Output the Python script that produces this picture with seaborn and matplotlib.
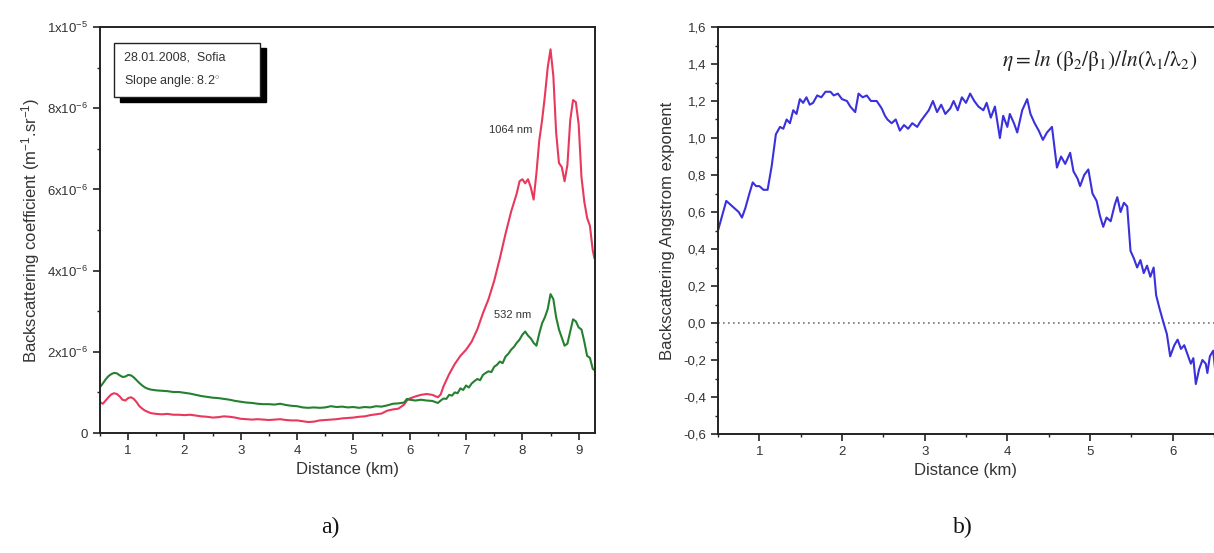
import numpy as np
import pandas as pd
import matplotlib
matplotlib.use("Agg")
import matplotlib.pyplot as plt
import matplotlib.ticker as mticker
from matplotlib.patches import Rectangle
import seaborn as sns

# ---------------- data ----------------
red_x = [0.50,0.55,0.60,0.65,0.70,0.75,0.80,0.85,0.90,0.95,1.00,1.05,1.10,1.15,1.20,1.25,1.30,1.35,1.40,1.45,
         1.5,1.6,1.7,1.8,1.9,2.0,2.1,2.2,2.3,2.4,2.5,2.6,2.7,2.8,2.9,3.0,3.1,3.2,3.3,3.4,3.5,3.6,3.7,3.8,3.9,
         4.0,4.1,4.2,4.3,4.4,4.5,4.6,4.7,4.8,4.9,5.0,5.1,5.2,5.3,5.4,5.5,5.6,5.7,5.8,5.9,5.95,6.0,6.1,6.2,6.3,
         6.4,6.5,6.55,6.6,6.7,6.8,6.9,7.0,7.1,7.2,7.3,7.4,7.5,7.6,7.7,7.8,7.9,7.95,8.0,8.05,8.1,8.15,8.2,8.25,
         8.3,8.35,8.4,8.45,8.5,8.55,8.6,8.65,8.7,8.75,8.8,8.85,8.9,8.95,9.0,9.05,9.1,9.15,9.2,9.25,9.28]
red_y = [0.76,0.72,0.80,0.88,0.95,0.98,0.96,0.90,0.82,0.80,0.86,0.88,0.84,0.76,0.66,0.60,0.55,0.52,0.49,0.48,
         0.47,0.46,0.47,0.45,0.45,0.44,0.45,0.43,0.41,0.40,0.38,0.39,0.41,0.40,0.38,0.35,0.34,0.33,0.34,0.33,
         0.32,0.33,0.34,0.32,0.31,0.31,0.29,0.27,0.28,0.31,0.32,0.33,0.34,0.36,0.37,0.38,0.40,0.41,0.44,0.46,
         0.48,0.55,0.58,0.60,0.70,0.80,0.85,0.90,0.94,0.96,0.94,0.88,0.95,1.15,1.45,1.70,1.90,2.05,2.25,2.55,
         2.95,3.30,3.75,4.30,4.90,5.45,5.90,6.20,6.25,6.15,6.25,6.05,5.75,6.40,7.20,7.70,8.30,9.00,9.45,8.80,
         7.40,6.65,6.55,6.20,6.60,7.70,8.20,8.15,7.60,6.30,5.70,5.30,5.10,4.50,4.30]

green_x = [0.50,0.55,0.60,0.65,0.70,0.75,0.80,0.85,0.90,0.95,1.00,1.05,1.10,1.15,1.20,1.25,1.30,1.35,1.40,1.45,
           1.5,1.6,1.7,1.8,1.9,2.0,2.1,2.2,2.3,2.4,2.5,2.6,2.7,2.8,2.9,3.0,3.1,3.2,3.3,3.4,3.5,3.6,3.7,3.8,3.9,
           4.0,4.1,4.2,4.3,4.4,4.5,4.6,4.7,4.8,4.9,5.0,5.1,5.2,5.3,5.4,5.5,5.6,5.7,5.8,5.9,5.95,6.0,6.1,6.2,6.3,
           6.4,6.5,6.55,6.6,6.65,6.7,6.75,6.8,6.85,6.9,6.95,7.0,7.05,7.1,7.15,7.2,7.25,7.3,7.35,7.4,7.45,7.5,
           7.55,7.6,7.65,7.7,7.75,7.8,7.85,7.9,7.95,8.0,8.05,8.1,8.15,8.2,8.25,8.3,8.35,8.4,8.45,8.5,8.55,8.6,
           8.65,8.7,8.75,8.8,8.85,8.9,8.95,9.0,9.05,9.1,9.15,9.2,9.25,9.28]
green_y = [1.13,1.22,1.32,1.40,1.45,1.48,1.47,1.42,1.38,1.39,1.43,1.42,1.37,1.30,1.23,1.17,1.12,1.09,1.07,1.06,
           1.05,1.04,1.03,1.01,1.01,0.99,0.97,0.94,0.91,0.89,0.87,0.86,0.84,0.82,0.79,0.77,0.75,0.74,0.72,0.71,
           0.71,0.70,0.72,0.69,0.67,0.66,0.63,0.62,0.63,0.62,0.63,0.66,0.64,0.65,0.63,0.64,0.62,0.64,0.63,0.66,
           0.65,0.68,0.72,0.73,0.75,0.84,0.82,0.80,0.82,0.80,0.79,0.74,0.80,0.85,0.84,0.94,0.92,1.00,0.98,1.10,
           1.06,1.17,1.12,1.22,1.28,1.33,1.30,1.43,1.48,1.52,1.50,1.63,1.68,1.76,1.72,1.88,1.95,2.05,2.12,2.22,
           2.30,2.42,2.50,2.40,2.33,2.22,2.15,2.45,2.70,2.85,3.05,3.42,3.30,2.85,2.55,2.35,2.15,2.20,2.50,2.80,
           2.75,2.60,2.55,2.25,1.90,1.85,1.58,1.55]

blue_x = [0.50,0.55,0.60,0.65,0.70,0.75,0.79,0.83,0.88,0.92,0.96,1.00,1.05,1.10,1.15,1.20,1.25,1.29,1.33,1.37,
          1.41,1.45,1.49,1.53,1.57,1.61,1.65,1.70,1.75,1.80,1.86,1.90,1.95,2.00,2.06,2.10,2.16,2.20,2.25,2.30,
          2.35,2.42,2.48,2.52,2.55,2.60,2.65,2.70,2.75,2.80,2.85,2.91,2.95,3.00,3.05,3.10,3.15,3.20,3.25,3.31,
          3.35,3.40,3.45,3.50,3.55,3.60,3.65,3.71,3.75,3.80,3.85,3.91,3.95,4.00,4.03,4.08,4.12,4.18,4.24,4.28,
          4.33,4.38,4.43,4.48,4.54,4.60,4.65,4.70,4.76,4.80,4.85,4.88,4.93,4.98,5.03,5.08,5.12,5.16,5.20,5.25,
          5.30,5.33,5.37,5.41,5.45,5.49,5.53,5.57,5.61,5.65,5.69,5.73,5.77,5.80,5.84,5.89,5.93,5.97,6.02,6.06,
          6.10,6.14,6.18,6.22,6.25,6.28,6.32,6.36,6.40,6.42,6.45,6.49,6.52]
blue_y = [0.50,0.58,0.66,0.64,0.62,0.60,0.57,0.62,0.70,0.76,0.74,0.74,0.72,0.72,0.85,1.02,1.06,1.05,1.10,1.08,
          1.15,1.13,1.21,1.19,1.22,1.18,1.19,1.23,1.22,1.25,1.25,1.23,1.24,1.21,1.20,1.17,1.14,1.24,1.22,1.23,
          1.20,1.20,1.16,1.12,1.10,1.08,1.10,1.04,1.07,1.05,1.08,1.06,1.09,1.12,1.15,1.20,1.14,1.18,1.13,1.16,
          1.20,1.15,1.22,1.19,1.24,1.20,1.17,1.15,1.19,1.11,1.17,1.00,1.12,1.06,1.13,1.08,1.03,1.15,1.21,1.13,
          1.08,1.04,0.99,1.03,1.06,0.84,0.90,0.86,0.92,0.82,0.78,0.74,0.80,0.83,0.70,0.66,0.58,0.52,0.57,0.55,
          0.64,0.68,0.60,0.65,0.63,0.39,0.35,0.30,0.34,0.27,0.31,0.25,0.30,0.15,0.08,0.00,-0.06,-0.18,-0.12,-0.09,
          -0.14,-0.12,-0.17,-0.22,-0.19,-0.33,-0.25,-0.20,-0.22,-0.27,-0.18,-0.15,-0.28]

left_yticks = [0, 2e-6, 4e-6, 6e-6, 8e-6, 1e-5]
left_yticklabels = ["0", r"$2\mathrm{x}10^{-6}$", r"$4\mathrm{x}10^{-6}$", r"$6\mathrm{x}10^{-6}$",
                    r"$8\mathrm{x}10^{-6}$", r"$1\mathrm{x}10^{-5}$"]
right_yticks = [-0.6, -0.4, -0.2, 0.0, 0.2, 0.4, 0.6, 0.8, 1.0, 1.2, 1.4, 1.6]

# ---------------- style ----------------
sns.set_style("ticks")
plt.rcParams["font.family"] = ["Liberation Sans", "DejaVu Sans"]
plt.rcParams["mathtext.fontset"] = "custom"
plt.rcParams["mathtext.rm"] = "Liberation Sans"
plt.rcParams["mathtext.it"] = "Liberation Sans:italic"
plt.rcParams["mathtext.bf"] = "Liberation Sans:bold"

RED = "#e8385c"
GREEN = "#25802f"
BLUE = "#3a30dc"
TXT = "#333333"

fig = plt.figure(figsize=(12.14, 5.53), dpi=100)
ax1 = fig.add_axes([100/1214, 1-433/553, 495/1214, 406/553])
ax2 = fig.add_axes([718/1214, 1-434/553, 496/1214, 407/553])

df_red = pd.DataFrame({"x": red_x, "y": np.array(red_y) * 1e-6})
df_green = pd.DataFrame({"x": green_x, "y": np.array(green_y) * 1e-6})
df_blue = pd.DataFrame({"x": blue_x, "y": blue_y})

sns.lineplot(data=df_red, x="x", y="y", ax=ax1, color=RED, lw=1.5, sort=False)
sns.lineplot(data=df_green, x="x", y="y", ax=ax1, color=GREEN, lw=1.5, sort=False)
sns.lineplot(data=df_blue, x="x", y="y", ax=ax2, color=BLUE, lw=1.5, sort=False)

for ax in (ax1, ax2):
    for s in ax.spines.values():
        s.set_linewidth(1.4)
        s.set_color("#222222")
    ax.tick_params(which="major", direction="out", length=5, width=1.2, labelsize=9.5,
                   colors="#222222", labelcolor=TXT)
    ax.tick_params(which="minor", direction="out", length=2.5, width=1.0, colors="#222222")
    ax.xaxis.set_major_locator(mticker.MultipleLocator(1))
    ax.xaxis.set_minor_locator(mticker.MultipleLocator(0.5))
    ax.set_xlabel("Distance (km)", fontsize=12, color=TXT, labelpad=4)

# left panel
ax1.set_xlim(0.5, 9.29)
ax1.set_ylim(0, 1e-5)
ax1.set_yticks(left_yticks)
ax1.set_yticklabels(left_yticklabels)
ax1.yaxis.set_minor_locator(mticker.MultipleLocator(1e-6))
ax1.set_ylabel(r"Backscattering coefficient (m$^{-1}$.sr$^{-1}$)", fontsize=12, color=TXT, labelpad=4)
ax1.text(7.8, 7.46e-6, "1064 nm", fontsize=8, color=TXT, ha="center", va="center")
ax1.text(7.82, 2.9e-6, "532 nm", fontsize=8, color=TXT, ha="center", va="center")

# annotation box with shadow
ax1.add_patch(Rectangle((0.040, 0.815), 0.295, 0.133, transform=ax1.transAxes,
                        facecolor="black", edgecolor="black", lw=1, zorder=4))
ax1.add_patch(Rectangle((0.028, 0.828), 0.295, 0.133, transform=ax1.transAxes,
                        facecolor="white", edgecolor="#222222", lw=1, zorder=5))
ax1.text(0.048, 0.925, "28.01.2008,  Sofia", transform=ax1.transAxes, fontsize=9,
         color=TXT, va="center", ha="left", zorder=6)
ax1.text(0.048, 0.868, r"Slope angle: 8.2$^{\circ}$", transform=ax1.transAxes, fontsize=9,
         color=TXT, va="center", ha="left", zorder=6)

# right panel
ax2.set_xlim(0.5, 6.5)
ax2.set_ylim(-0.6, 1.6)
ax2.set_yticks(right_yticks)
ax2.yaxis.set_major_formatter(mticker.FuncFormatter(lambda v, p: f"{v:.1f}".replace(".", ",").replace("-0,0", "0,0")))
ax2.yaxis.set_minor_locator(mticker.MultipleLocator(0.1))
ax2.spines["right"].set_visible(False)
ax2.set_ylabel("Backscattering Angstrom exponent", fontsize=12, color=TXT, labelpad=6)
ax2.axhline(0, color="#777777", lw=1.2, ls=(0, (1, 2)), zorder=1)
ax2.text(5.12, 1.42, r"$\eta = ln\ (\mathrm{\beta}_{2}/\mathrm{\beta}_{1})/ln(\mathrm{\lambda}_{1}/\mathrm{\lambda}_{2})$",
         math_fontfamily="stix", fontsize=15.5, color="#222222", ha="center", va="center")

fig.text(330/1214, 1-527/553, "a)", fontsize=17, family="Liberation Serif", color="#111111",
         ha="center", va="center")
fig.text(963/1214, 1-527/553, "b)", fontsize=17, family="Liberation Serif", color="#111111",
         ha="center", va="center")

fig.savefig("out.png", dpi=100, facecolor="white")
